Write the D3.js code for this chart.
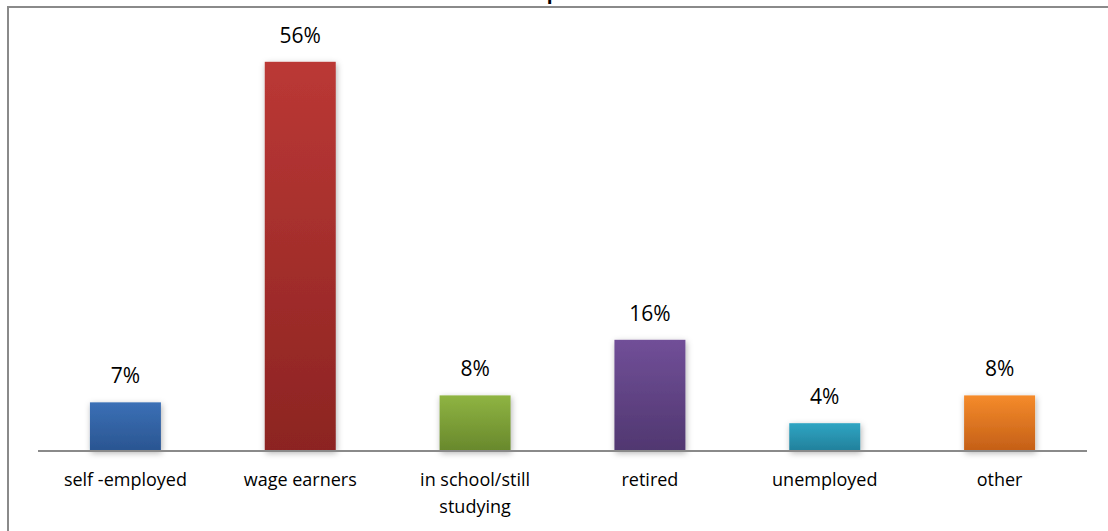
<!DOCTYPE html>
<html>
<head>
<meta charset="utf-8">
<script src="https://cdn.jsdelivr.net/npm/d3@7"></script>
<style>
  html, body { margin: 0; padding: 0; background: #fff; }
  svg { display: block; }
  text { font-family: "Open Sans", "Noto Sans", sans-serif; fill: #000; }
</style>
</head>
<body>
<div id="chart"></div>
<script>
// Occupation breakdown (percent of respondents)
const categories = ["self -employed", "wage earners", "in school/still studying", "retired", "unemployed", "other"];
const values = [7, 56, 8, 16, 4, 8];
const valueLabels = ["7%", "56%", "8%", "16%", "4%", "8%"];
const title = "Occupation";

// Top/bottom gradient stops for each bar
const barColors = [
  ["#3b70b6", "#2a5591"],
  ["#bb3835", "#8c2422"],
  ["#8fb442", "#68882c"],
  ["#714f98", "#503770"],
  ["#30a5c3", "#22809b"],
  ["#f58b2b", "#c45f17"]
];

const W = 1108, H = 531;
const svg = d3.select("#chart").append("svg")
  .attr("width", W).attr("height", H);

const defs = svg.append("defs");
barColors.forEach((c, i) => {
  const g = defs.append("linearGradient")
    .attr("id", "grad" + i).attr("x1", 0).attr("y1", 0).attr("x2", 0).attr("y2", 1);
  g.append("stop").attr("offset", "0%").attr("stop-color", c[0]);
  g.append("stop").attr("offset", "100%").attr("stop-color", c[1]);
});
const shadow = defs.append("filter").attr("id", "shadow")
  .attr("x", "-30%").attr("y", "-30%").attr("width", "160%").attr("height", "160%");
shadow.append("feDropShadow")
  .attr("dx", 1).attr("dy", 2).attr("stdDeviation", 3)
  .attr("flood-color", "#000").attr("flood-opacity", 0.3);

// Chart frame (only top and left edges fall inside the view)
svg.append("rect")
  .attr("x", 8).attr("y", 7).attr("width", W + 20).attr("height", H + 20)
  .attr("fill", "none").attr("stroke", "#8a8a8a").attr("stroke-width", 2);

// Title, sitting above the visible area
svg.append("text")
  .attr("x", 554).attr("y", -1)
  .attr("text-anchor", "middle")
  .attr("font-weight", "bold")
  .attr("font-size", 19)
  .text(title);

const x = d3.scaleBand()
  .domain(categories)
  .range([38, 1087])
  .paddingInner(0.594)
  .paddingOuter(0.297);

const y = d3.scaleLinear()
  .domain([0, 60])
  .range([451, 34]);

// Bars
svg.append("g").selectAll("rect")
  .data(values)
  .join("rect")
  .attr("x", (d, i) => x(categories[i]))
  .attr("y", d => y(d))
  .attr("width", x.bandwidth())
  .attr("height", d => y(0) - y(d))
  .attr("fill", (d, i) => `url(#grad${i})`)
  .attr("filter", "url(#shadow)");

// Baseline
svg.append("line")
  .attr("x1", 38).attr("x2", 1087)
  .attr("y1", y(0)).attr("y2", y(0))
  .attr("stroke", "#8a8a8a").attr("stroke-width", 2);

// Value labels
svg.append("g").selectAll("text")
  .data(values)
  .join("text")
  .attr("x", (d, i) => x(categories[i]) + x.bandwidth() / 2)
  .attr("y", d => y(d) - 19)
  .attr("text-anchor", "middle")
  .attr("font-size", 21)
  .text((d, i) => valueLabels[i]);

// Category labels, wrapped to the band width
const catLines = {
  "in school/still studying": ["in school/still", "studying"]
};
const catG = svg.append("g");
categories.forEach(c => {
  const lines = catLines[c] || [c];
  const t = catG.append("text")
    .attr("text-anchor", "middle")
    .attr("font-size", 18);
  lines.forEach((ln, j) => {
    t.append("tspan")
      .attr("x", x(c) + x.bandwidth() / 2)
      .attr("y", 486 + j * 27)
      .text(ln);
  });
});
</script>
</body>
</html>
